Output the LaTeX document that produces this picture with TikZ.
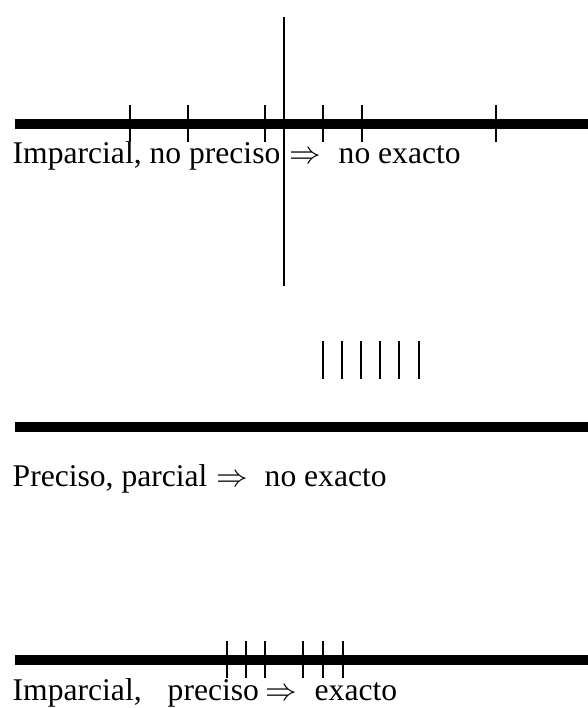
\RequirePackage{fix-cm}
\documentclass[tikz,border=0pt]{standalone}
\usepackage{fontspec}
\setmainfont{Liberation Serif}
\begin{document}
\begin{tikzpicture}[x=1pt,y=-1pt,
  bar/.style={line width=10pt},
  tickmark/.style={line width=2.2pt},
  axisline/.style={line width=2.5pt},
  lbl/.style={anchor=base west,inner sep=0pt,font=\fontsize{31.6}{38}\selectfont},
  arr/.style={anchor=base west,inner sep=0pt,font=\fontsize{31.6}{38}\selectfont}]
\useasboundingbox[fill=white] (0,0) rectangle (587,708);
% ---- panel 1
\coordinate (b1s) at (15,124);
\coordinate (b1e) at (588,124);
\draw[bar] (b1s) -- (b1e);
\foreach \x in {130,188,265,323,362,496}
  \draw[tickmark] (\x,105) -- (\x,142);
\coordinate (v1) at (284,17);
\coordinate (v2) at (284,286);
\draw[axisline] (v1) -- (v2);
\node[lbl] (t1a) at (12.5,164) {Imparcial, no preciso};
\node[arr] (a1) at (289,164) {$\Rightarrow$};
\node[lbl] (t1b) at (338.5,164) {no exacto};
% ---- panel 2
\foreach \x in {323,342,361,380,399,419}
  \draw[axisline] (\x,341) -- (\x,379);
\coordinate (b2s) at (15,427);
\coordinate (b2e) at (588,427);
\draw[bar] (b2s) -- (b2e);
\node[lbl] (t2a) at (12.5,486) {Preciso, parcial};
\node[arr] (a2) at (216,486) {$\Rightarrow$};
\node[lbl] (t2b) at (264.5,486) {no exacto};
% ---- panel 3
\coordinate (b3s) at (15,660);
\coordinate (b3e) at (588,660);
\draw[bar] (b3s) -- (b3e);
\foreach \x in {227,246,265,303,323,343}
  \draw[tickmark] (\x,641) -- (\x,678);
\node[lbl] (t3a) at (12.5,700) {Imparcial,};
\node[lbl] (t3b) at (167.5,700) {preciso};
\node[arr] (a3) at (265,700) {$\Rightarrow$};
\node[lbl] (t3c) at (314.5,700) {exacto};
\end{tikzpicture}
\end{document}
